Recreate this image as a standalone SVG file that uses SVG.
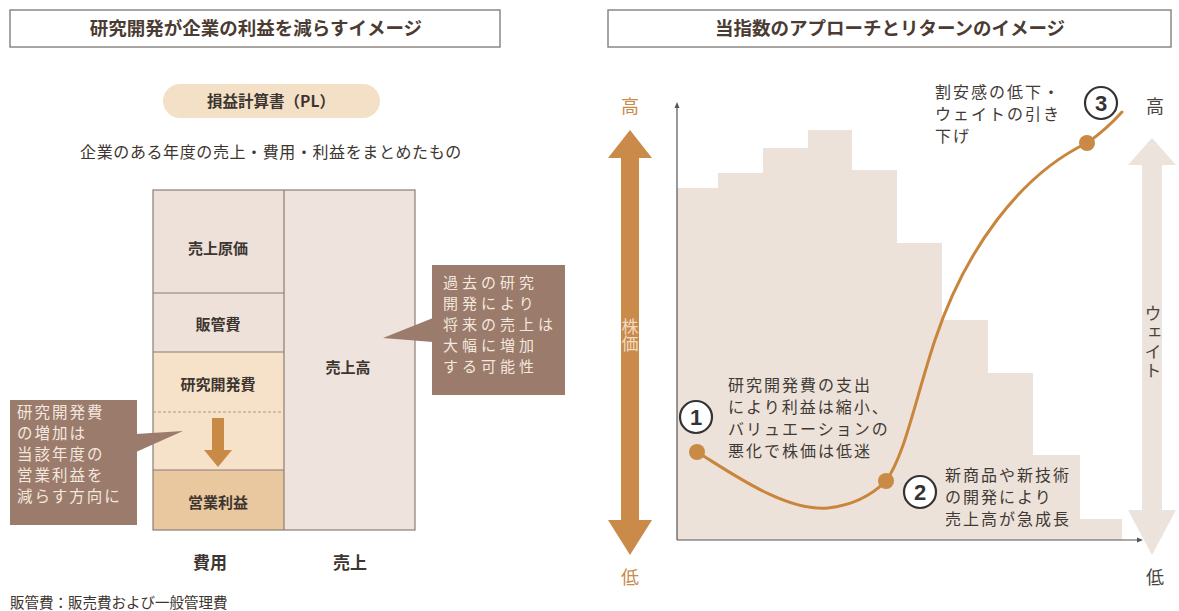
<svg xmlns="http://www.w3.org/2000/svg" width="1179" height="611" viewBox="0 0 1179 611">
<defs>
<style>
.t{font-family:"Noto Sans CJK JP","Noto Sans",sans-serif;}
.title{font-size:18.5px;font-weight:bold;fill:#4a3b33;text-anchor:middle;}
.tbox{fill:#fff;stroke:#8c8784;stroke-width:1.5;}
.cell{font-size:15px;font-weight:bold;fill:#3d3530;text-anchor:middle;}
.call{fill:#9b7b6b;}
.ctext{font-size:15.5px;fill:#f3e7df;letter-spacing:2px;}
.ctext2{font-size:15px;fill:#f3e7df;letter-spacing:4px;}
.note{font-size:16px;fill:#3f3a36;letter-spacing:2px;}
.num{fill:#fff;stroke:#333;stroke-width:2.2;}
.numt{font-family:"Liberation Sans",sans-serif;font-size:22px;font-weight:bold;fill:#333;text-anchor:middle;}
.dot{fill:#c98a45;}
.axis{stroke:#555;stroke-width:1.2;fill:none;}
</style>
</defs>
<rect width="1179" height="611" fill="#fff"/>

<g id="left-title">
<rect class="tbox" x="10" y="10" width="490" height="37"/>
<text class="t title" x="256" y="35">研究開発が企業の利益を減らすイメージ</text>
</g>

<g id="pl-pill">
<rect x="163" y="84" width="217" height="34" rx="17" fill="#f4e0c6"/>
<text class="t" x="271" y="107" font-size="15.5" font-weight="bold" fill="#3d3530" text-anchor="middle">損益計算書（PL）</text>
</g>

<text class="t" x="271" y="158" font-size="16" fill="#3d3530" text-anchor="middle" letter-spacing="0.6">企業のある年度の売上・費用・利益をまとめたもの</text>

<g id="pl-table">
<rect x="153" y="190" width="131" height="103" fill="#ede1d9"/>
<rect x="153" y="293" width="131" height="59" fill="#ede1d9"/>
<rect x="153" y="352" width="131" height="118" fill="#f6e2c8"/>
<rect x="153" y="470" width="131" height="60" fill="#e9c79f"/>
<rect x="284" y="190" width="131" height="340" fill="#efe4dd"/>
<g stroke="#8b7d75" stroke-width="1.2" fill="none">
<rect x="153" y="190" width="262" height="340"/>
<line x1="284" y1="190" x2="284" y2="530"/>
<line x1="153" y1="293" x2="284" y2="293"/>
<line x1="153" y1="352" x2="284" y2="352"/>
<line x1="153" y1="470" x2="284" y2="470"/>
</g>
<line x1="153" y1="412" x2="284" y2="412" stroke="#b09888" stroke-width="1.2" stroke-dasharray="3,2"/>
<path d="M212,418 H224 V450 H232 L218,467 L204,450 H212 Z" fill="#c98a45"/>
<text class="t cell" x="218" y="254">売上原価</text>
<text class="t cell" x="218" y="330">販管費</text>
<text class="t cell" x="218" y="390">研究開発費</text>
<text class="t cell" x="218" y="508">営業利益</text>
<text class="t cell" x="348" y="373">売上高</text>
</g>

<g id="callout-left">
<rect class="call" x="10" y="400" width="127" height="125"/>
<polygon class="call" points="136,434 183,431 136,452"/>
<text class="t ctext" x="17" y="418">研究開発費</text>
<text class="t ctext" x="17" y="439">の増加は</text>
<text class="t ctext" x="17" y="460">当該年度の</text>
<text class="t ctext" x="17" y="481">営業利益を</text>
<text class="t ctext" x="17" y="502">減らす方向に</text>
</g>

<g id="callout-right">
<rect class="call" x="432" y="265" width="133" height="130"/>
<polygon class="call" points="433,318 383,338 433,342"/>
<text class="t ctext2" x="443" y="288">過去の研究</text>
<text class="t ctext2" x="443" y="309">開発により</text>
<text class="t ctext2" x="443" y="330">将来の売上は</text>
<text class="t ctext2" x="443" y="351">大幅に増加</text>
<text class="t ctext2" x="443" y="372">する可能性</text>
</g>

<text class="t" x="210" y="569" font-size="17" font-weight="bold" fill="#3d3530" text-anchor="middle">費用</text>
<text class="t" x="350" y="569" font-size="17" font-weight="bold" fill="#3d3530" text-anchor="middle">売上</text>
<text class="t" x="10" y="608" font-size="14.5" fill="#3d3530">販管費：販売費および一般管理費</text>

<g id="right-title">
<rect class="tbox" x="608" y="10" width="563" height="37"/>
<text class="t title" x="890" y="35">当指数のアプローチとリターンのイメージ</text>
</g>

<g id="chart-bg">
<path d="M677,540 V188 H718 V173 H763 V148 H808 V130 H852 V170 H897 V243 H942 V320 H988 V373 H1033 V455 H1080 V519 H1122 V540 Z" fill="#ede2da"/>
</g>

<g id="price-arrow">
<path d="M630,130 L652,158 L639,158 L639,520 L652,520 L630,555 L608,520 L621,520 L621,158 L608,158 Z" fill="#c98a4a"/>
<text class="t" x="630" y="113" font-size="18" fill="#c98a4a" text-anchor="middle">高</text>
<text class="t" x="630" y="584" font-size="18" fill="#c98a4a" text-anchor="middle">低</text>
<text class="t" x="630" y="318" font-size="17" fill="#f0d9c2" style="writing-mode:vertical-rl" text-anchor="start">株価</text>
</g>

<g id="weight-arrow">
<path d="M1152,138 L1176,165 L1162,165 L1162,510 L1176,510 L1152,555 L1128,510 L1142,510 L1142,165 L1128,165 Z" fill="#ebe3dc"/>
<text class="t" x="1155" y="113" font-size="18" fill="#4a4440" text-anchor="middle">高</text>
<text class="t" x="1155" y="584" font-size="18" fill="#4a4440" text-anchor="middle">低</text>
<text class="t" x="1153" y="305" font-size="17" fill="#4a4440" style="writing-mode:vertical-rl" text-anchor="start" letter-spacing="2">ウェイト</text>
</g>

<g id="axes">
<line class="axis" x1="677" y1="106" x2="677" y2="540"/>
<line class="axis" x1="677" y1="540" x2="1138" y2="540"/>
<polygon points="677,102 674.5,108 679.5,108" fill="#555"/>
<polygon points="1143,540 1137,537.5 1137,542.5" fill="#555"/>
</g>

<g id="connectors">
<path d="M697,452 C730,472 785,512 828,508 C855,505 873,494 886,481 C905,455 915,400 935,340 C965,250 1020,175 1087,143 C1100,134 1112,123 1122,112" fill="none" stroke="#c9853b" stroke-width="3" stroke-linecap="round"/>
</g>

<g id="point-1">
<circle class="dot" cx="697" cy="452" r="8"/>
<circle class="num" cx="696" cy="417" r="16"/>
<text class="numt" x="696" y="425">1</text>
<text class="t note" x="728" y="391">研究開発費の支出</text>
<text class="t note" x="728" y="413">により利益は縮小、</text>
<text class="t note" x="728" y="435">バリュエーションの</text>
<text class="t note" x="728" y="457">悪化で株価は低迷</text>
</g>

<g id="point-2">
<circle class="dot" cx="886" cy="481" r="8"/>
<circle class="num" cx="920" cy="492" r="16"/>
<text class="numt" x="920" y="500">2</text>
<text class="t note" x="945" y="481">新商品や新技術</text>
<text class="t note" x="945" y="503">の開発により</text>
<text class="t note" x="945" y="525">売上高が急成長</text>
</g>

<g id="point-3">
<circle class="dot" cx="1087" cy="143" r="8"/>
<circle class="num" cx="1101" cy="103" r="16"/>
<text class="numt" x="1101" y="111">3</text>
<text class="t note" x="935" y="98">割安感の低下・</text>
<text class="t note" x="935" y="120">ウェイトの引き</text>
<text class="t note" x="935" y="142">下げ</text>
</g>
</svg>
